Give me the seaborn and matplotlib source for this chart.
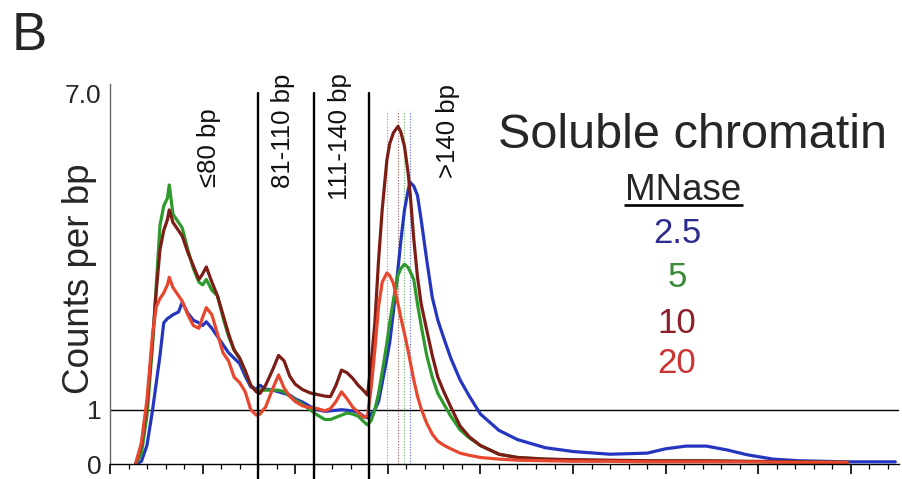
import numpy as np
import pandas as pd
import matplotlib
matplotlib.use("Agg")
import matplotlib.pyplot as plt
from matplotlib.lines import Line2D
from matplotlib.ticker import MultipleLocator
import seaborn as sns

nan = np.nan

# Fragment length (bp) at which each profile is sampled
fragment_bp = [14, 17, 20, 23, 25, 27, 29, 31, 32, 34,
               37, 39, 42, 45, 48, 50, 52, 55, 58, 61,
               64, 67, 70, 73, 76, 79, 81, 84, 88, 91,
               94, 97, 100, 104, 108, 112, 116, 119, 122, 125,
               128, 131, 134, 137, 139, 141, 143, 145, 147, 149.5,
               151, 153, 155.5, 157, 159, 161, 162, 164, 166, 168,
               171, 174, 177, 180, 184, 189, 194, 200, 210, 220,
               235, 250, 270, 290, 300, 311, 322, 333, 344, 358,
               372, 385, 398, 410, 424]

# Normalised counts per bp for each MNase concentration
counts_mnase_2_5 = [0.0, 0.05, 0.35, 1.0, 1.5, 2.0, 2.6, 2.68, 2.7, 2.75,
                    2.8, 2.98, 2.78, 2.65, 2.6, 2.55, 2.62, 2.5, 2.35, 2.2,
                    2.05, 1.95, 1.85, 1.62, 1.42, 1.38, 1.45, 1.38, 1.36, 1.33,
                    1.3, 1.27, 1.2, 1.14, 1.06, 1.0, 0.97, 0.98, 0.99, 1.0,
                    0.99, 0.98, 0.95, 0.88, 0.85, 0.92, 1.0, 1.15, 1.5, 1.95,
                    2.23, 2.8, 3.6, 4.1, 4.68, 5.05, 5.19, 5.12, 4.95, 4.5,
                    3.76, 3.07, 2.65, 2.34, 1.95, 1.55, 1.25, 0.92, 0.62, 0.45,
                    0.3, 0.23, 0.18, 0.2, 0.28, 0.33, 0.33, 0.26, 0.17, 0.09,
                    0.06, 0.05, 0.04, 0.04, 0.04]

counts_mnase_5 = [0.0, 0.2, 0.9, 2.2, 3.3, 4.4, 4.75, 4.9, 5.14, 4.6,
                  4.45, 4.35, 3.95, 3.6, 3.35, 3.3, 3.4, 3.2, 3.1, 2.7,
                  2.35, 2.1, 1.95, 1.7, 1.45, 1.35, 1.36, 1.36, 1.36, 1.36,
                  1.33, 1.25, 1.18, 1.1, 1.0, 0.9, 0.82, 0.82, 0.86, 0.9,
                  0.94, 0.92, 0.88, 0.78, 0.72, 0.8, 1.0, 1.3, 1.7, 2.23,
                  2.6, 3.02, 3.48, 3.6, 3.68, 3.62, 3.55, 3.4, 2.95, 2.55,
                  2.0, 1.6, 1.3, 1.12, 0.88, 0.63, 0.48, 0.34, 0.18, 0.12,
                  0.09, 0.07, 0.06, 0.05, 0.05, 0.05, 0.05, 0.05, 0.045, 0.04,
                  0.04, 0.035, 0.03, nan, nan]

counts_mnase_10 = [0.02, 0.35, 1.1, 2.3, 3.2, 3.95, 4.3, 4.5, 4.68, 4.45,
                   4.3, 4.2, 3.9, 3.65, 3.4, 3.5, 3.63, 3.35, 3.1, 2.75,
                   2.4, 2.1, 1.95, 1.72, 1.45, 1.33, 1.3, 1.45, 1.75, 2.0,
                   1.9, 1.62, 1.47, 1.37, 1.31, 1.28, 1.25, 1.24, 1.45, 1.73,
                   1.68, 1.58, 1.45, 1.35, 1.27, 1.85, 2.6, 3.75, 4.7, 5.6,
                   5.9, 6.1, 6.22, 6.12, 5.85, 5.35, 5.0, 4.15, 3.45, 2.95,
                   2.47, 2.0, 1.6, 1.35, 1.05, 0.7, 0.5, 0.34, 0.18, 0.12,
                   0.09, 0.08, 0.07, 0.06, 0.06, 0.06, 0.06, 0.055, 0.05, 0.045,
                   0.04, 0.035, 0.03, nan, nan]

counts_mnase_20 = [0.02, 0.4, 1.2, 2.4, 2.9, 3.05, 3.15, 3.3, 3.44, 3.25,
                   3.1, 3.0, 2.75, 2.55, 2.5, 2.7, 2.88, 2.75, 2.4, 2.05,
                   1.9, 1.6, 1.5, 1.33, 1.0, 0.9, 0.92, 1.05, 1.4, 1.64,
                   1.4, 1.25, 1.15, 1.07, 1.04, 1.02, 0.98, 1.02, 1.15, 1.33,
                   1.2, 1.05, 0.95, 0.86, 0.88, 1.4, 2.1, 2.9, 3.35, 3.52,
                   3.47, 3.33, 2.95, 2.7, 2.4, 2.08, 1.9, 1.55, 1.25, 1.02,
                   0.75, 0.55, 0.42, 0.35, 0.28, 0.2, 0.16, 0.12, 0.09, 0.07,
                   0.06, 0.05, 0.05, 0.04, 0.04, 0.04, 0.04, 0.04, 0.04, 0.035,
                   0.03, 0.03, 0.03, nan, nan]

mnase_levels = ["2.5", "5", "10", "20"]
size_class_edges = [80, 110, 140]
size_class_labels = ["\u226480 bp", "81-110 bp", "111-140 bp", ">140 bp"]
y_tick_values = [0, 1, 7]
y_tick_labels = ["0", "1", "7.0"]

line_colors = ["#2436c0", "#2e9a2e", "#7c1d16", "#e8472f"]
text_colors = ["#2c2c8e", "#3b8a3b", "#8e1f2a", "#cc3333"]

# Long-form table for seaborn
series = [counts_mnase_2_5, counts_mnase_5, counts_mnase_10, counts_mnase_20]
frames = [pd.DataFrame({"bp": fragment_bp, "counts": vals, "MNase": lvl})
          for lvl, vals in zip(mnase_levels, series)]
df = pd.concat(frames, ignore_index=True).dropna()

sns.set_style("white")
plt.rcParams["font.family"] = ["Liberation Sans", "DejaVu Sans"]

W, H = 902, 479
fig = plt.figure(figsize=(W / 100, H / 100), dpi=100)
ax = fig.add_axes([110 / W, (H - 464) / H, 789 / W, 380 / H])

# Reference level and size-class boundaries
ax.axhline(1, color="black", lw=1.0, zorder=1)
for edge in size_class_edges:
    ax.axvline(edge, ymin=-0.04, ymax=0.976, color="black", lw=1.7,
               clip_on=False, zorder=3)

sns.lineplot(data=df, x="bp", y="counts", hue="MNase", hue_order=mnase_levels,
             palette=line_colors, linewidth=2.3, legend=False,
             estimator=None, sort=True, ax=ax, zorder=2)
for line in ax.get_lines():
    line.set_solid_joinstyle("round")
    line.set_solid_capstyle("round")

# Dotted markers at the mono-nucleosome peak of each digest
for lvl, color in zip(mnase_levels, line_colors):
    sub = df[(df["MNase"] == lvl) & (df["bp"] > 140)]
    peak_bp = sub.loc[sub["counts"].idxmax(), "bp"]
    ax.vlines(peak_bp, 0, 6.5, colors=color, linestyles=(0, (1, 1.5)),
              lw=0.8, alpha=0.75, zorder=1.5)

ax.set_xlim(0, 426)
ax.set_ylim(0, 7)
ax.xaxis.set_major_locator(MultipleLocator(50))
ax.xaxis.set_minor_locator(MultipleLocator(10))
ax.tick_params(axis="x", which="major", direction="out", length=7,
               width=1.2, color="black", labelbottom=False, bottom=True)
ax.tick_params(axis="x", which="minor", direction="out", length=3.5,
               width=0.9, color="black", bottom=True)
ax.set_yticks(y_tick_values)
ax.set_yticklabels(y_tick_labels)
ax.tick_params(axis="y", length=0, labelsize=19, pad=6)
ax.get_yticklabels()[-1].set_verticalalignment("top")
ax.set_xlabel("")

for side in ["top", "right"]:
    ax.spines[side].set_visible(False)
ax.spines["left"].set_color("#666666")
ax.spines["left"].set_linewidth(1.0)
ax.spines["bottom"].set_color("black")
ax.spines["bottom"].set_linewidth(1.0)

ax.set_ylabel("Counts per bp", fontsize=26.5)
ax.yaxis.set_label_coords(-0.039, 0.487)
ax.yaxis.label.set_verticalalignment("center")

# Size-class labels above the profiles
label_spots = [(53.5, 5.1), (93.4, 5.08), (124, 4.86), (182.5, 5.27)]
for text, (xb, yb) in zip(size_class_labels, label_spots):
    ax.text(xb, yb, text, rotation=90, ha="center", va="bottom",
            fontsize=18.5, color="#111111")

# Panel letter
fig.text(12 / W, 1 - 50 / H, "B", fontsize=38, va="baseline", ha="left")

# Title and colour key
fig.text(693 / W, 1 - 148 / H, "Soluble chromatin", fontsize=35,
         ha="center", va="baseline")
fig.text(683 / W, 1 - 200 / H, "MNase", fontsize=26.5, ha="center",
         va="baseline")
fig.add_artist(Line2D([625 / W, 742 / W], [1 - 205 / H, 1 - 205 / H],
                      color="black", lw=1.9, transform=fig.transFigure))
key_baselines = [243, 287, 333, 373]
for lvl, color, yb in zip(mnase_levels, text_colors, key_baselines):
    fig.text(677 / W, 1 - yb / H, lvl, fontsize=25, color=color,
             ha="center", va="baseline")

fig.savefig("out.png", dpi=100)
